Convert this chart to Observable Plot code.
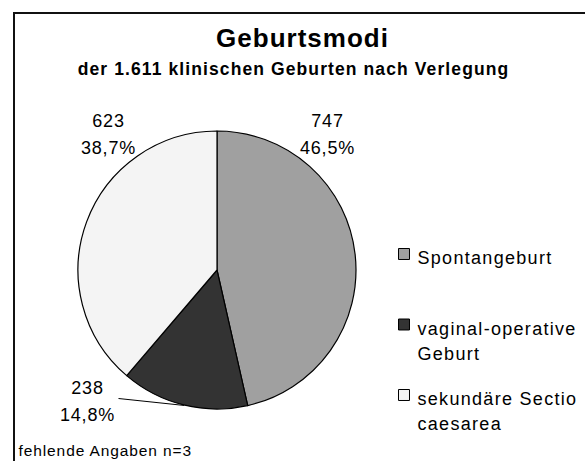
<!DOCTYPE html>
<html><head><meta charset="utf-8">
<script src="https://cdn.jsdelivr.net/npm/d3@7"></script>
<script src="https://cdn.jsdelivr.net/npm/@observablehq/plot@0.6"></script>
<style>
body{margin:0;background:#fff;}
#wrap{position:relative;width:585px;height:461px;overflow:hidden;background:#fff;}
#chart{position:absolute;left:0;top:0;}
#frame{position:absolute;left:13px;top:12px;width:620px;height:500px;border-left:2px solid #111;border-top:2px solid #111;pointer-events:none;}
</style></head><body>
<div id="wrap"><div id="chart"></div><div id="frame"></div></div>
<script>
// ---- data ----
const categories = ["Spontangeburt", "vaginal-operative Geburt", "sekundäre Sectio caesarea"];
const legendLabels = ["Spontangeburt", "vaginal-operative\nGeburt", "sekundäre Sectio\ncaesarea"];
const counts = [747, 238, 623];
const percentLabels = ["46,5%", "14,8%", "38,7%"];
const colors = ["#a0a0a0", "#333333", "#f4f4f4"];
const title = "Geburtsmodi";
const subtitle = "der 1.611 klinischen Geburten nach Verlegung";
const caption = "fehlende Angaben n=3";

// ---- layout ----
const CX = 217, CY = 270, R = 139;
const ux = px => (px - CX) / R, uy = py => (CY - py) / R;
const labelPos = {
  "Spontangeburt": [327, 131],
  "vaginal-operative Geburt": [87, 398],
  "sekundäre Sectio caesarea": [108, 131]
};
const leaderFrom = {"vaginal-operative Geburt": [118, 398]};

const rows = categories.map((c, i) => ({category: c, legend: legendLabels[i], count: counts[i], pct: percentLabels[i]}));
const arcs = d3.pie().sort(null).value(d => d.count)(rows);
arcs.forEach(a => { a.data.mid = (a.startAngle + a.endAngle) / 2; });
const leaders = rows.filter(d => leaderFrom[d.category]);

function pieMark(index, scales) {
  const cx = scales.x(0), cy = scales.y(0), r = scales.x(1) - cx;
  const arc = d3.arc().innerRadius(0).outerRadius(r);
  const g = d3.create("svg:g").attr("transform", `translate(${cx},${cy})`);
  g.selectAll("path").data(arcs).join("path")
    .attr("d", arc)
    .attr("fill", d => scales.color(d.data.category))
    .attr("stroke", "#000").attr("stroke-width", 1.2).attr("stroke-linejoin", "round");
  return g.node();
}

const font = "'Liberation Sans', Arial, sans-serif";
const chart = Plot.plot({
  width: 585, height: 461, margin: 0,
  x: {domain: [-1, 1], range: [CX - R, CX + R], axis: null},
  y: {domain: [-1, 1], range: [CY + R, CY - R], axis: null},
  color: {domain: categories, range: colors},
  style: {fontFamily: font, fontSize: "18px", color: "#000", background: "transparent"},
  marks: [
    pieMark,
    Plot.link(leaders, {
      x1: d => ux(leaderFrom[d.category][0]), y1: d => uy(leaderFrom[d.category][1]),
      x2: d => Math.sin(d.mid), y2: d => Math.cos(d.mid),
      stroke: "#000", strokeWidth: 1
    }),
    Plot.text(rows, {
      ariaDescription: "slice-labels",
      x: d => ux(labelPos[d.category][0]), y: d => uy(labelPos[d.category][1]),
      text: d => d.count + "\n" + d.pct,
      fontSize: 18, lineHeight: 1.53, textAnchor: "middle", lineAnchor: "middle", fill: "#000"
    }),
    Plot.dot(rows, {
      x: () => ux(403.5), y: (d, i) => uy(253.5 + 70.5 * i),
      symbol: "square", r: 6.2, fill: "category", stroke: "#000", strokeWidth: 1
    }),
    Plot.text(rows, {
      ariaDescription: "legend-labels",
      x: () => ux(417), y: (d, i) => uy(246 + 70.5 * i),
      text: "legend", textAnchor: "start", lineAnchor: "top", lineHeight: 1.39, fontSize: 18, fill: "#000"
    }),
    Plot.text([title], {ariaDescription: "title", x: () => ux(302), y: () => uy(38.5), text: d => d, fontSize: 26, fontWeight: "bold", textAnchor: "middle", lineAnchor: "middle", fill: "#000"}),
    Plot.text([subtitle], {ariaDescription: "subtitle", x: () => ux(293), y: () => uy(68.5), text: d => d, fontSize: 17.5, fontWeight: "bold", textAnchor: "middle", lineAnchor: "middle", fill: "#000"}),
    Plot.text([caption], {ariaDescription: "caption", x: () => ux(18), y: () => uy(451), text: d => d, fontSize: 15.5, textAnchor: "start", lineAnchor: "middle", fill: "#000"})
  ]
});
const spacing = [["slice-labels", "0.8px"], ["legend-labels", "1.3px"], ["title", "1px"], ["subtitle", "1.1px"], ["caption", "0.9px"]];
let groups = d3.select(chart).selectAll('g[aria-label="text"]').nodes();
spacing.forEach(([k, v], i) => {
  let g = chart.querySelector(`g[aria-description="${k}"]`) || groups[i];
  if (g) d3.select(g).selectAll("text").style("letter-spacing", v);
});
document.getElementById("chart").appendChild(chart);
</script>
</body></html>
